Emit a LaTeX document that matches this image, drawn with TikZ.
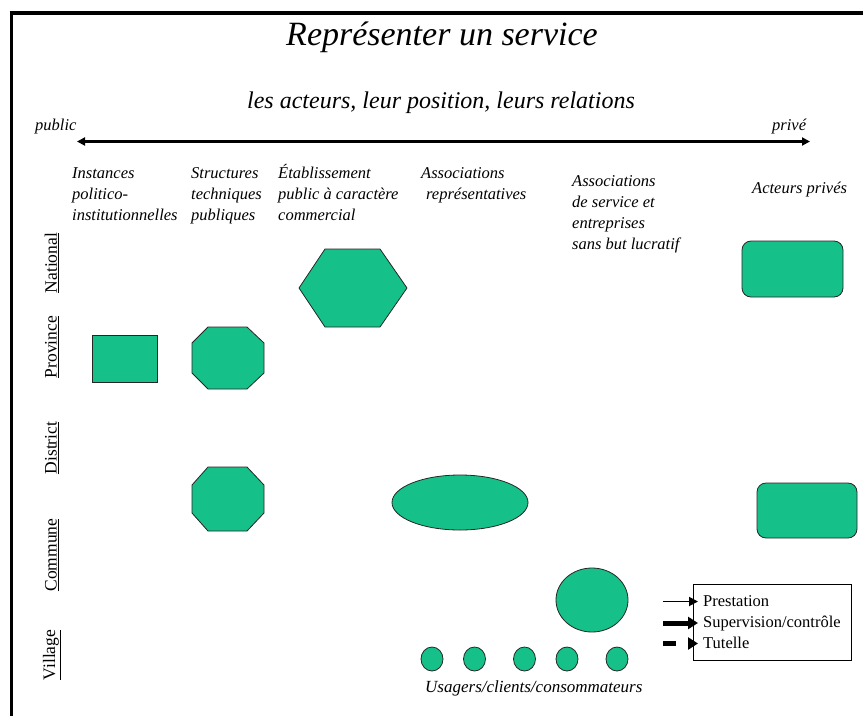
\documentclass[tikz,border=0pt]{standalone}
\usepackage{fontspec}
\setmainfont{Liberation Serif}
\usetikzlibrary{arrows.meta,shapes.geometric}
\definecolor{actorgreen}{RGB}{22,193,137}
\tikzset{
  actor/.style={draw=black!85, line width=0.8pt, fill=actorgreen},
  header/.style={anchor=base west, align=left, inner sep=0pt,
    font=\fontsize{16.5}{21}\selectfont\itshape},
  level/.style={rotate=90, inner sep=0pt, font=\fontsize{17.5}{20}\selectfont},
  legendtext/.style={anchor=base west, inner sep=0pt, font=\fontsize{16.5}{20}\selectfont},
}
\begin{document}
\begin{tikzpicture}[x=1pt,y=-1pt]
\useasboundingbox (0,0) rectangle (863,716);
% frame
\draw[line width=4pt] (9.5,13) -- (863,13);
\draw[line width=3pt] (11.5,11) -- (11.5,716);
% titles
\node[anchor=base, inner sep=0pt, font=\fontsize{34}{40}\selectfont\itshape] (title) at (442,45) {Représenter un service};
\node[anchor=base, inner sep=0pt, font=\fontsize{24}{28}\selectfont\itshape] (subtitle) at (441,108) {les acteurs, leur position, leurs relations};
% public / private axis
\node[anchor=base west, inner sep=0pt, font=\fontsize{16.5}{20}\selectfont\itshape] (public) at (35,130) {public};
\node[anchor=base west, inner sep=0pt, font=\fontsize{16.5}{20}\selectfont\itshape] (prive) at (772,130) {privé};
\coordinate (axisL) at (77,141.5);
\coordinate (axisR) at (810,141.5);
\draw[line width=2.5pt, {Triangle[length=8pt,width=8pt]}-{Triangle[length=8pt,width=8pt]}] (axisL) -- (axisR);
% column headers (anchored on the baseline of their last line)
\node[header] (h1) at (72,220) {Instances\\politico-\\institutionnelles};
\node[header] (h2) at (191,220) {Structures\\techniques\\publiques};
\node[header] (h3) at (278,220) {Établissement\\public à caractère\\commercial};
\node[header] (h4) at (421,199) {Associations\\\hspace*{0.3em}représentatives};
\node[header] (h5) at (572,249) {Associations\\de service et\\entreprises\\sans but lucratif};
\node[header] (h6) at (752,193) {Acteurs privés};
% territorial levels
\node[level] (national) at (52,263) {\underline{National}};
\node[level] (province) at (52,347) {\underline{Province}};
\node[level] (district) at (52,448) {\underline{District}};
\node[level] (commune) at (52,555) {\underline{Commune}};
\node[level] (village) at (52,655) {\underline{Village}};
% actors
\node[actor, rectangle, minimum width=65pt, minimum height=47pt, inner sep=0pt] (instprov) at (124.5,358.5) {};
\draw[actor] (208,327) -- (247,327) -- (264,343) -- (264,373) -- (247,389) -- (208,389) -- (192,373) -- (192,343) -- cycle;
\draw[actor] (208,467) -- (247,467) -- (264,485) -- (264,513) -- (247,531) -- (208,531) -- (192,513) -- (192,485) -- cycle;
\draw[actor] (299,288) -- (325,249) -- (380,249) -- (407,288) -- (380,327) -- (325,327) -- cycle;
\node[actor, ellipse, minimum width=136pt, minimum height=55pt, inner sep=0pt] (assoc) at (460,502.5) {};
\node[actor, ellipse, minimum width=72pt, minimum height=64pt, inner sep=0pt] (assocserv) at (592,600) {};
\node[actor, rectangle, rounded corners=9pt, minimum width=101pt, minimum height=56pt, inner sep=0pt] (privnat) at (792.5,269) {};
\node[actor, rectangle, rounded corners=9pt, minimum width=100pt, minimum height=55pt, inner sep=0pt] (privcom) at (807,510.5) {};
% users
\foreach \x [count=\i] in {432,474.5,524.5,567,617}
  \node[actor, ellipse, minimum width=22pt, minimum height=24pt, inner sep=0pt] (user\i) at (\x,659) {};
\node[anchor=base west, inner sep=0pt, font=\fontsize{17}{20}\selectfont\itshape] (users) at (425,692) {Usagers/clients/consommateurs};
% legend
\node[draw, line width=1pt, rectangle, minimum width=158pt, minimum height=76pt, inner sep=0pt] (legend) at (772,622) {};
\node[legendtext] (lprest) at (703,606) {Prestation};
\node[legendtext] (lsup) at (703,627) {Supervision/contrôle};
\node[legendtext] (ltut) at (703,648) {Tutelle};
\coordinate (a1s) at (663,601.5);
\coordinate (a1e) at (698,601.5);
\coordinate (a2s) at (663,623);
\coordinate (a2e) at (698,623);
\coordinate (a3s) at (663,643.5);
\coordinate (a3e) at (698,643.5);
\draw[line width=1.8pt, -{Triangle[length=9pt,width=9pt]}] (a1s) -- (a1e);
\draw[line width=5pt, -{Triangle[length=10pt,width=12pt]}] (a2s) -- (a2e);
\draw[line width=5pt, dash pattern=on 13pt off 30pt, -{Triangle[length=10pt,width=12pt]}] (a3s) -- (a3e);
\end{tikzpicture}
\end{document}
